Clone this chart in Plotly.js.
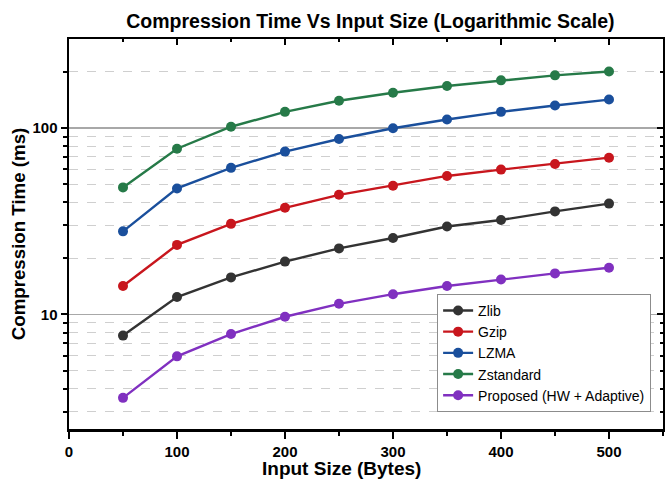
<!DOCTYPE html>
<html>
<head>
<meta charset="utf-8">
<script src="https://cdn.plot.ly/plotly-3.0.1.min.js"></script>
<style>html,body{margin:0;padding:0;background:#fff;}#chart{width:671px;height:481px;}</style>
</head>
<body>
<div id="chart"></div>
<script>
const inputSize = [50, 100, 150, 200, 250, 300, 350, 400, 450, 500];
const zlib      = [7.7, 12.4, 15.8, 19.2, 22.6, 25.7, 29.6, 32.1, 35.7, 39.3];
const gzip      = [14.2, 23.6, 30.6, 37.3, 43.8, 49.0, 55.3, 59.8, 64.1, 69.3];
const lzma      = [27.9, 47.4, 61.1, 74.7, 87.3, 99.6, 111, 122, 132, 142];
const zstandard = [48.0, 77.4, 101.5, 122, 140, 154.5, 168, 180, 191.5, 201];
const proposed  = [3.57, 5.96, 7.85, 9.72, 11.4, 12.84, 14.2, 15.4, 16.6, 17.8];

const seriesNames  = ["Zlib", "Gzip", "LZMA", "Zstandard", "Proposed (HW + Adaptive)"];
const seriesValues = [zlib, gzip, lzma, zstandard, proposed];
const seriesColors = ["#333333", "#c8161d", "#1a4f9c", "#267a48", "#8030c0"];

const yMajorTicks = [10, 100];
const yMinorTicks = [3, 4, 5, 6, 7, 8, 9, 20, 30, 40, 50, 60, 70, 80, 90, 200];

const FONT = "Liberation Sans, Arial, sans-serif";

const traces = seriesNames.map((name, i) => ({
  type: "scatter",
  mode: "lines+markers",
  name: name,
  x: inputSize,
  y: seriesValues[i],
  line: {color: seriesColors[i], width: 2.4},
  marker: {color: seriesColors[i], size: 10}
}));

const yRange = [Math.log10(2.43), Math.log10(300)];
const xRange = [0, 550];

const layout = {
  width: 671,
  height: 481,
  margin: {l: 69, r: 8, t: 39, b: 52},
  paper_bgcolor: "#ffffff",
  plot_bgcolor: "#ffffff",
  showlegend: true,
  title: {
    text: "Compression Time Vs Input Size (Logarithmic Scale)",
    font: {family: FONT, size: 19.5, weight: "bold", color: "#000"},
    x: 0.552, xanchor: "center", xref: "container",
    y: 0.957, yanchor: "middle", yref: "container"
  },
  xaxis: {
    range: xRange,
    tickmode: "linear", tick0: 0, dtick: 100,
    ticks: "outside", ticklen: 7, tickwidth: 2, tickcolor: "#000",
    minor: {tickmode: "linear", tick0: 0, dtick: 50, ticks: "outside", ticklen: 4, tickwidth: 2, tickcolor: "#000", showgrid: false},
    showline: true, linewidth: 2.5, linecolor: "#000",
    showgrid: false, zeroline: false,
    tickfont: {family: FONT, size: 15, weight: "bold", color: "#000"}
  },
  yaxis: {
    type: "log",
    range: yRange,
    tickmode: "array", tickvals: yMajorTicks, ticktext: yMajorTicks.map(String),
    ticks: "outside", ticklen: 6, tickwidth: 2, tickcolor: "#000",
    minor: {tickmode: "array", tickvals: yMinorTicks, ticks: "outside", ticklen: 4, tickwidth: 2, tickcolor: "#000",
            showgrid: true, gridcolor: "#cfcfcf", gridwidth: 1, griddash: "dash"},
    showline: true, linewidth: 2.5, linecolor: "#000",
    showgrid: true, gridcolor: "#a8a8a8", gridwidth: 1.2,
    zeroline: false,
    tickfont: {family: FONT, size: 15, weight: "bold", color: "#000"},
    title: {text: "Compression Time (ms)", font: {family: FONT, size: 18.7, weight: "bold", color: "#000"}, standoff: 2}
  },
  xaxis2: {
    overlaying: "x", side: "top", range: xRange,
    tickmode: "linear", tick0: 0, dtick: 100,
    ticks: "inside", ticklen: 6, tickwidth: 2, tickcolor: "#000",
    minor: {tickmode: "linear", tick0: 0, dtick: 50, ticks: "inside", ticklen: 3, tickwidth: 2, tickcolor: "#000", showgrid: false},
    showticklabels: false, showline: true, linewidth: 2, linecolor: "#000",
    showgrid: false, zeroline: false
  },
  yaxis2: {
    overlaying: "y", side: "right", type: "log", range: yRange,
    tickmode: "array", tickvals: yMajorTicks,
    ticks: "inside", ticklen: 6, tickwidth: 2, tickcolor: "#000",
    minor: {tickmode: "array", tickvals: yMinorTicks, ticks: "inside", ticklen: 3, tickwidth: 2, tickcolor: "#000", showgrid: false},
    showticklabels: false, showline: true, linewidth: 2, linecolor: "#000",
    showgrid: false, zeroline: false
  },
  annotations: [{
    text: "Input Size (Bytes)",
    xref: "paper", yref: "paper",
    x: (341 - 69) / 594, y: -(468 - 429) / 390,
    xanchor: "center", yanchor: "middle", showarrow: false,
    font: {family: FONT, size: 19, weight: "bold", color: "#000"}
  }],
  legend: {
    x: 0.98, xanchor: "right", y: 0.044, yanchor: "bottom",
    bgcolor: "#ffffff", bordercolor: "#8c8c8c", borderwidth: 1,
    font: {family: FONT, size: 14, color: "#000"},
    tracegroupgap: 0, itemwidth: 30
  }
};

// empty helper trace so the mirrored top/right axes are drawn
traces.push({type: "scatter", x: [], y: [], xaxis: "x2", yaxis: "y2", showlegend: false, hoverinfo: "skip"});

Plotly.newPlot("chart", traces, layout, {displayModeBar: false, staticPlot: true});
</script>
</body>
</html>
